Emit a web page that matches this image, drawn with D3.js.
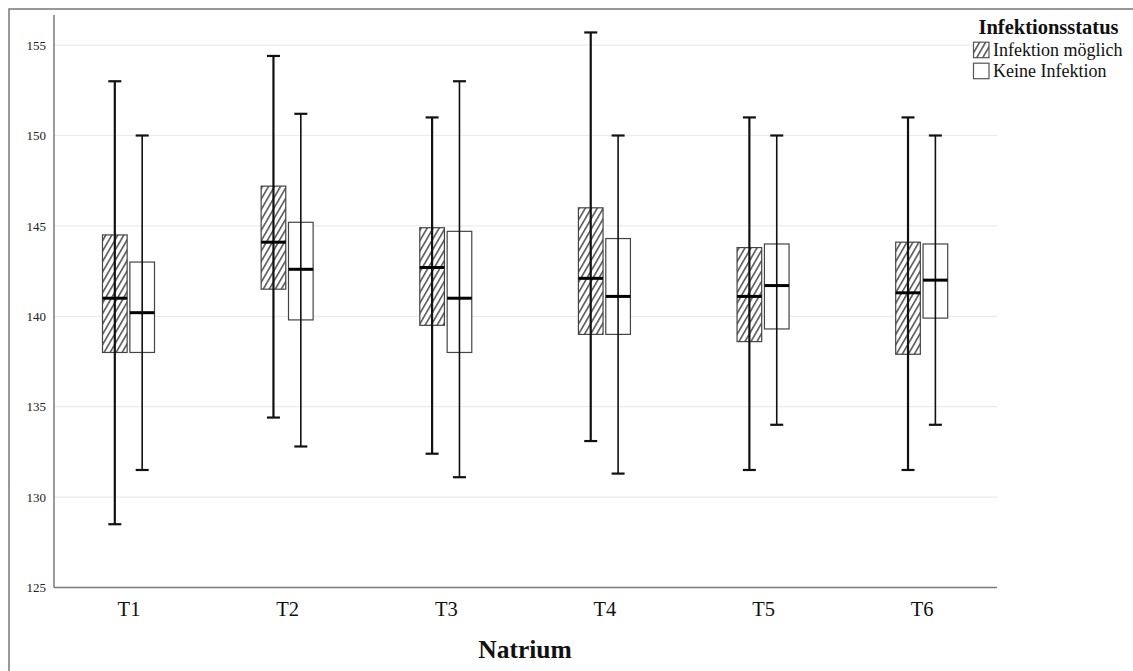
<!DOCTYPE html>
<html>
<head>
<meta charset="utf-8">
<script src="https://cdn.jsdelivr.net/npm/d3@7"></script>
<style>
  html, body { margin: 0; padding: 0; background: #fff; }
  svg { display: block; }
  text { font-family: "Liberation Serif", "Times New Roman", serif; }
</style>
</head>
<body>
<svg id="chart" width="1133" height="671"></svg>
<script>
// ---- data ----
const categories = ["T1", "T2", "T3", "T4", "T5", "T6"];
const seriesNames = ["Infektion möglich", "Keine Infektion"];
const yTicks = [125, 130, 135, 140, 145, 150, 155];

// Infektion möglich
const infMin    = [128.5, 134.4, 132.4, 133.1, 131.5, 131.5];
const infQ1     = [138.0, 141.5, 139.5, 139.0, 138.6, 137.9];
const infMedian = [141.0, 144.1, 142.7, 142.1, 141.1, 141.3];
const infQ3     = [144.5, 147.2, 144.9, 146.0, 143.8, 144.1];
const infMax    = [153.0, 154.4, 151.0, 155.7, 151.0, 151.0];

// Keine Infektion
const keinMin    = [131.5, 132.8, 131.1, 131.3, 134.0, 134.0];
const keinQ1     = [138.0, 139.8, 138.0, 139.0, 139.3, 139.9];
const keinMedian = [140.2, 142.6, 141.0, 141.1, 141.7, 142.0];
const keinQ3     = [143.0, 145.2, 144.7, 144.3, 144.0, 144.0];
const keinMax    = [150.0, 151.2, 153.0, 150.0, 150.0, 150.0];

const rows = [];
categories.forEach((c, i) => {
  rows.push({cat: c, s: seriesNames[0], min: infMin[i], q1: infQ1[i], med: infMedian[i], q3: infQ3[i], max: infMax[i]});
  rows.push({cat: c, s: seriesNames[1], min: keinMin[i], q1: keinQ1[i], med: keinMedian[i], q3: keinQ3[i], max: keinMax[i]});
});

// ---- layout ----
const svg = d3.select("#chart");
const plotLeft = 54, plotRight = 997, plotTop = 15, plotBottom = 587.5;

const x = d3.scalePoint().domain(categories).range([128.5, 921.7]);
const xs = d3.scaleBand().domain(seriesNames).range([-26, 26]).paddingInner(0.1);
const y = d3.scaleLinear().domain([125, 125 + (plotBottom - plotTop) / 18.08]).range([plotBottom, plotTop]);

// hatch pattern
const defs = svg.append("defs");
const pat = defs.append("pattern")
  .attr("id", "hatch").attr("patternUnits", "userSpaceOnUse")
  .attr("width", 5.2).attr("height", 10)
  .attr("patternTransform", "rotate(30)");
pat.append("rect").attr("width", 5.2).attr("height", 10).attr("fill", "#fff");
pat.append("line").attr("x1", 0.8).attr("x2", 0.8).attr("y1", 0).attr("y2", 10)
  .attr("stroke", "#333").attr("stroke-width", 1.3);

// outer frame
svg.append("rect").attr("x", 9).attr("y", 9).attr("width", 1200).attr("height", 800)
  .attr("fill", "none").attr("stroke", "#777").attr("stroke-width", 1.5);

// gridlines
svg.append("g").selectAll("line").data(yTicks.filter(t => t > 125)).join("line")
  .attr("x1", plotLeft).attr("x2", plotRight)
  .attr("y1", d => y(d)).attr("y2", d => y(d))
  .attr("stroke", "#ebebeb").attr("stroke-width", 1.2);

// y axis
const yAxis = d3.axisLeft(y).tickValues(yTicks).tickSize(0).tickPadding(8).tickFormat(d3.format("d"));
const gy = svg.append("g").attr("transform", `translate(${plotLeft},0)`).call(yAxis);
gy.select(".domain").remove();
gy.selectAll("text").attr("font-size", 13).attr("fill", "#222")
  .style("font-family", '"Liberation Serif", serif');
svg.append("line").attr("x1", plotLeft).attr("x2", plotLeft).attr("y1", plotTop).attr("y2", plotBottom)
  .attr("stroke", "#7a7a7a").attr("stroke-width", 1.5);

// x axis
const xAxis = d3.axisBottom(x).tickSize(0).tickPadding(14);
const gx = svg.append("g").attr("transform", `translate(0,${plotBottom})`).call(xAxis);
gx.select(".domain").remove();
gx.selectAll("text").attr("font-size", 20.5).attr("fill", "#111")
  .style("font-family", '"Liberation Serif", serif');
svg.append("line").attr("x1", plotLeft).attr("x2", plotRight).attr("y1", plotBottom).attr("y2", plotBottom)
  .attr("stroke", "#7a7a7a").attr("stroke-width", 1.5);

// axis title
svg.append("text").attr("x", 525).attr("y", 658).attr("text-anchor", "middle")
  .attr("font-size", 25.5).attr("font-weight", "bold").attr("fill", "#111").text("Natrium");

// boxes
const bw = xs.bandwidth();
const g = svg.append("g").selectAll("g").data(rows).join("g")
  .attr("transform", d => `translate(${x(d.cat) + xs(d.s)},0)`);

g.append("rect")
  .attr("x", 0).attr("width", bw)
  .attr("y", d => y(d.q3)).attr("height", d => y(d.q1) - y(d.q3))
  .attr("fill", d => d.s === seriesNames[0] ? "url(#hatch)" : "#fff")
  .attr("stroke", "#444").attr("stroke-width", 1.2);

g.append("line")
  .attr("x1", bw / 2).attr("x2", bw / 2)
  .attr("y1", d => y(d.min)).attr("y2", d => y(d.max))
  .attr("stroke", "#111").attr("stroke-width", d => d.s === seriesNames[0] ? 2.2 : 1.6);

g.selectAll(".cap").data(d => [d.min, d.max].map(v => ({v, s: d.s}))).join("line")
  .attr("class", "cap")
  .attr("x1", bw / 2 - 6.5).attr("x2", bw / 2 + 6.5)
  .attr("y1", d => y(d.v)).attr("y2", d => y(d.v))
  .attr("stroke", "#111").attr("stroke-width", 2.2);

g.append("line")
  .attr("x1", 0).attr("x2", bw)
  .attr("y1", d => y(d.med)).attr("y2", d => y(d.med))
  .attr("stroke", "#000").attr("stroke-width", 3);

// legend
const leg = svg.append("g");
leg.append("text").attr("x", 1048.5).attr("y", 34.3).attr("text-anchor", "middle")
  .attr("font-size", 20.5).attr("font-weight", "bold").attr("fill", "#111").text("Infektionsstatus");
const li = leg.selectAll(".li").data(seriesNames).join("g").attr("class", "li")
  .attr("transform", (d, i) => `translate(973,${41.7 + i * 21})`);
li.append("rect").attr("x", 0.5).attr("y", 0.5).attr("width", 15.5).attr("height", 15.5)
  .attr("fill", (d, i) => i === 0 ? "url(#hatch)" : "#fff")
  .attr("stroke", "#555").attr("stroke-width", 1.2);
li.append("text").attr("x", 20).attr("y", 14.5).attr("font-size", 18).attr("fill", "#111").text(d => d);
</script>
</body>
</html>
